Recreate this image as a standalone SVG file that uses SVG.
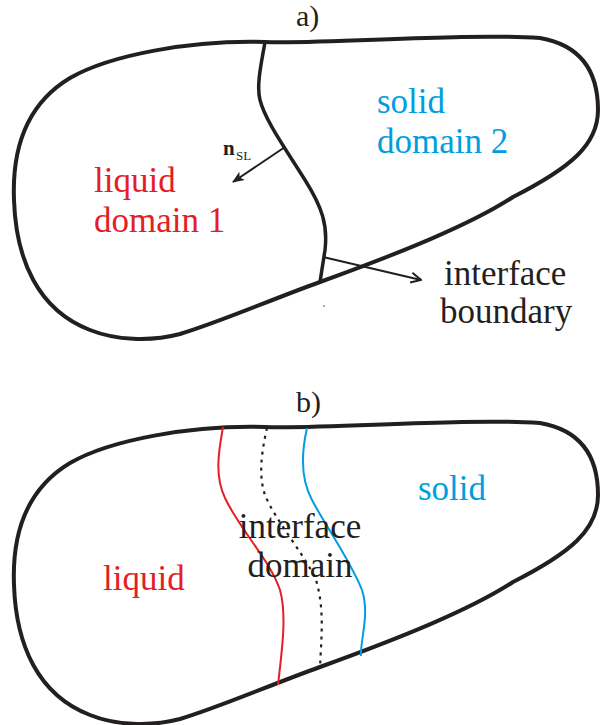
<svg xmlns="http://www.w3.org/2000/svg" width="600" height="725" viewBox="0 0 600 725">
<defs>
<style>
.outline{fill:none;stroke:#231f20;stroke-width:4;stroke-linejoin:round;stroke-linecap:round}
.iface{fill:none;stroke:#231f20;stroke-width:3.5;stroke-linecap:round}
.thin{fill:none;stroke:#231f20;stroke-width:2}
.red{fill:none;stroke:#e31e24;stroke-width:2}
.blue{fill:none;stroke:#009ee0;stroke-width:2}
.dash{fill:none;stroke:#231f20;stroke-width:2.2;stroke-dasharray:3 5}
text{font-family:"Liberation Serif","Times New Roman",serif;font-size:35px;fill:#231f20}
.tr{fill:#e31e24}
.tb{fill:#009ee0}
</style>
<marker id="filled" viewBox="0 0 12 10" refX="11" refY="5" markerWidth="12" markerHeight="10" markerUnits="userSpaceOnUse" orient="auto">
<path d="M0,0 L12,5 L0,10 L3,5 Z" fill="#231f20"/>
</marker>
<marker id="open" viewBox="0 0 12 12" refX="11" refY="6" markerWidth="12" markerHeight="12" markerUnits="userSpaceOnUse" orient="auto">
<path d="M1,1 L11,6 L1,11" fill="none" stroke="#231f20" stroke-width="2"/>
</marker>
<path id="shape" d="M265,42 C190,40 110,55 70,78 C25,105 12,150 14,200 C16,260 38,310 90,330 C115,340 150,342 180,334 C220,322 270,300 320,282 C400,253 470,225 513,197 C570,168 598,145 598,110 C598,70 580,45 540,38 C460,33 330,44 265,42 Z"/>
</defs>

<g id="panel-a">
<text id="label-a" x="296" y="26" style="font-size:30px">a)</text>
<g id="domain-a">
<use href="#shape" class="outline"/>
</g>
<g id="interface-a">
<path class="iface" d="M265,42 C262,60 256,85 260,100 C265,120 285,148 305,180 C322,207 328,225 325,250 L320,282"/>
</g>
<g id="liquid-1">
<text class="tr" x="94" y="192">liquid</text>
<text class="tr" x="94" y="232">domain 1</text>
</g>
<g id="solid-2">
<text class="tb" x="377" y="113">solid</text>
<text class="tb" x="377" y="153">domain 2</text>
</g>
<g id="nsl-label">
<text x="223" y="155" style="font-size:21px;font-weight:bold">n</text>
<text x="236" y="160" style="font-size:13px">SL</text>
</g>
<g id="interface-boundary-label">
<text x="444" y="285">interface</text>
<text x="440" y="323">boundary</text>
</g>
<circle cx="324" cy="306" r="0.7" fill="#231f20"/>
</g>

<g id="panel-b">
<text id="label-b" x="296" y="412" style="font-size:30px">b)</text>
<g id="domain-b">
<use href="#shape" class="outline" transform="translate(0,385)"/>
</g>
<g id="liquid-boundary">
<path class="red" d="M223,427 C219,450 214,475 225,498 C240,530 270,560 280,590 C287,615 282,650 278,685"/>
</g>
<g id="mid-interface">
<path class="dash" d="M267,428 C262,450 258,475 265,495 C275,520 305,555 316,580 C325,610 321,640 320,668"/>
</g>
<g id="solid-boundary">
<path class="blue" d="M307,428 C302,450 300,478 312,500 C325,525 350,560 362,590 C370,615 360,640 361,656"/>
</g>
<g id="liquid-label"><text class="tr" x="103" y="590">liquid</text></g>
<g id="solid-label"><text class="tb" x="418" y="500">solid</text></g>
<g id="interface-domain-label">
<text x="300" y="538" text-anchor="middle">interface</text>
<text x="300" y="577" text-anchor="middle">domain</text>
</g>
</g>

<g id="connectors">
<line class="thin" x1="285" y1="147" x2="233" y2="182" marker-end="url(#filled)"/>
<line class="thin" x1="323" y1="257" x2="421" y2="280" marker-end="url(#open)"/>
</g>
</svg>
